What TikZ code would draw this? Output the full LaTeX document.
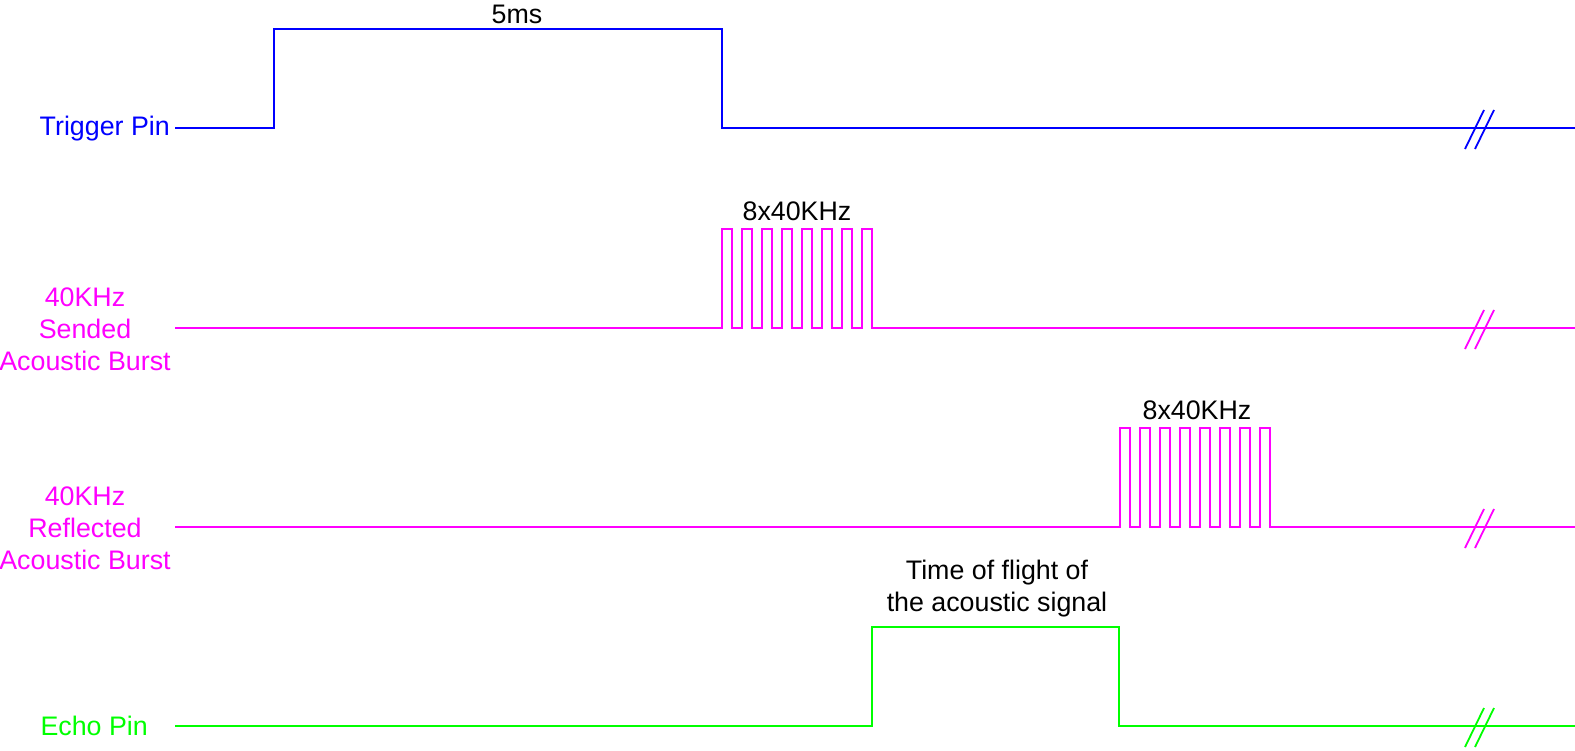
\documentclass[tikz,border=0pt]{standalone}
\usepackage{fontspec}
\setmainfont{Liberation Sans}
\definecolor{trig}{RGB}{0,0,255}
\definecolor{mag}{RGB}{255,0,255}
\definecolor{grn}{RGB}{0,255,0}
\begin{document}
\begin{tikzpicture}[x=1pt,y=-1pt,
  wave/.style={line width=2pt,line join=miter},
  lbl/.style={font=\fontsize{26.8}{32}\selectfont,inner sep=0pt,align=center},
  note/.style={font=\fontsize{26.8}{32}\selectfont,inner sep=0pt,align=center,text=black},
  brk/.style={line width=1.8pt}]
\useasboundingbox (0,0) rectangle (1575,750);
% labels
\node[lbl,text=trig,anchor=east] (ltrig) at (170,129) {Trigger Pin};
\node[lbl,text=mag] (lsend) at (85,329) {40KHz\\Sended\\Acoustic Burst};
\node[lbl,text=mag] (lrefl) at (85,528) {40KHz\\Reflected\\Acoustic Burst};
\node[lbl,text=grn,anchor=east] (lecho) at (148,726) {Echo Pin};
\node[note] (n5ms) at (517,14) {5ms};
\node[note] (nb1) at (797,211) {8x40KHz};
\node[note] (nb2) at (1197,410) {8x40KHz};
\node[note] (ntof) at (997,589) {Time of flight of\\the acoustic signal};
% trigger
\draw[wave,trig] (175,128) -- (274,128) -- (274,29) -- (722,29) -- (722,128) -- (1575,128);
% sended burst
\draw[wave,mag] (175,328) -- (722,328)
  \foreach \i in {0,...,7} { -- ++(0,-99) -- ++(10,0) -- ++(0,99) \ifnum\i<7 -- ++(10,0)\fi }
  -- (1575,328);
% reflected burst
\draw[wave,mag] (175,527) -- (1120,527)
  \foreach \i in {0,...,7} { -- ++(0,-99) -- ++(10,0) -- ++(0,99) \ifnum\i<7 -- ++(10,0)\fi }
  -- (1575,527);
% echo
\draw[wave,grn] (175,726) -- (872,726) -- (872,627) -- (1119,627) -- (1119,726) -- (1575,726);
% break marks
\foreach \y/\c in {128/trig,328/mag,527/mag,726/grn}{
  \draw[brk,\c] (1465,\y+21) -- (1484,\y-18);
  \draw[brk,\c] (1475,\y+21) -- (1494,\y-18);
}
\end{tikzpicture}
\end{document}
